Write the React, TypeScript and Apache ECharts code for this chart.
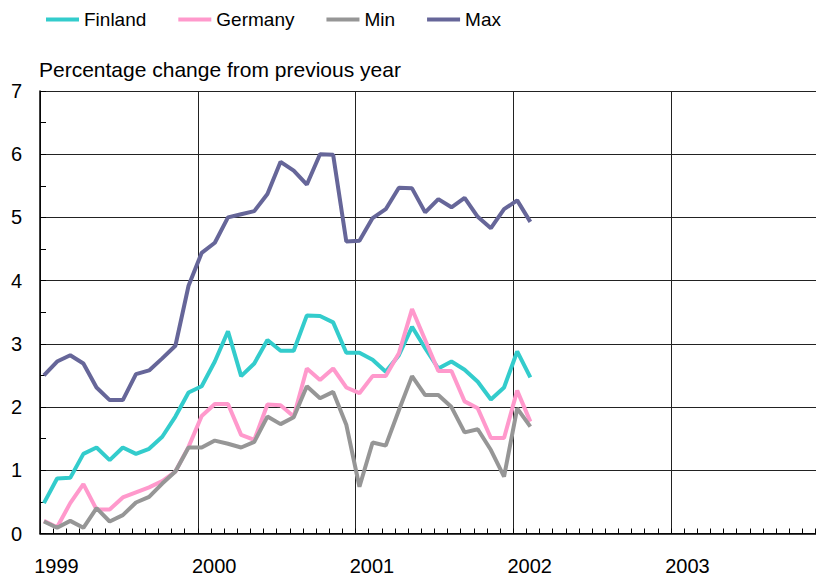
import React, { useEffect, useRef } from "react";
import * as echarts from "echarts";

const seriesNames = ["Finland", "Germany", "Min", "Max"];
const yearLabels = ["1999", "2000", "2001", "2002", "2003"];
const yTickLabels = ["0", "1", "2", "3", "4", "5", "6", "7"];

// Monthly values, Jan 1999 .. Feb 2002
const finland = [0.48, 0.87, 0.88, 1.26, 1.36, 1.16, 1.36, 1.26, 1.34, 1.53, 1.85, 2.23,
  2.33, 2.72, 3.2, 2.49, 2.69, 3.06, 2.89, 2.89, 3.45, 3.44, 3.34, 2.86,
  2.86, 2.75, 2.56, 2.82, 3.27, 2.93, 2.61, 2.72, 2.59, 2.4, 2.12, 2.31,
  2.88, 2.47];
const germany = [0.2, 0.1, 0.48, 0.78, 0.38, 0.38, 0.57, 0.65, 0.73, 0.83, 0.98, 1.37,
  1.86, 2.05, 2.05, 1.56, 1.48, 2.04, 2.03, 1.85, 2.61, 2.43, 2.61, 2.31,
  2.22, 2.49, 2.49, 2.85, 3.55, 3.06, 2.57, 2.57, 2.09, 1.98, 1.51, 1.51,
  2.26, 1.77];
const minVals = [0.19, 0.09, 0.2, 0.09, 0.4, 0.19, 0.29, 0.49, 0.58, 0.79, 0.98, 1.36,
  1.36, 1.47, 1.42, 1.36, 1.45, 1.85, 1.73, 1.84, 2.33, 2.14, 2.24, 1.72,
  0.74, 1.44, 1.39, 1.95, 2.49, 2.19, 2.19, 2.0, 1.6, 1.65, 1.32, 0.9,
  1.98, 1.69];
const maxVals = [2.5, 2.72, 2.82, 2.69, 2.31, 2.11, 2.11, 2.52, 2.58, 2.77, 2.97, 3.92,
  4.44, 4.6, 5.0, 5.05, 5.1, 5.37, 5.88, 5.74, 5.52, 6.0, 5.99, 4.62,
  4.63, 4.99, 5.13, 5.47, 5.46, 5.08, 5.29, 5.16, 5.31, 5.01, 4.83, 5.13,
  5.27, 4.93];

const colors = ["#33CCCC", "#FF99CC", "#969696", "#666699"];
const FONT = '"Liberation Sans", Arial, sans-serif';
const POINT_OFFSET = 0.3; // months from the start of the month
const LABEL_OFFSET = 1.25;

const toPoints = (vals: number[]) => vals.map((v, i) => [i + POINT_OFFSET, v]);

export default function App() {
  const ref = useRef<HTMLDivElement>(null);
  useEffect(() => {
    if (!ref.current) return;
    const chart = echarts.init(ref.current, null, { renderer: "svg" });
    const allData = [finland, germany, minVals, maxVals];
    chart.setOption({
      animation: false,
      backgroundColor: "#fff",
      legend: {
        data: seriesNames,
        icon: "rect",
        left: 46,
        top: 10,
        padding: 0,
        itemWidth: 33,
        itemHeight: 4,
        itemGap: 32,
        textStyle: { fontSize: 19, fontFamily: FONT, color: "#000", padding: [0, 0, 0, 0] },
      },
      graphic: [
        {
          type: "text",
          left: 39,
          top: 59,
          style: { text: "Percentage change from previous year", font: `21px ${FONT}`, fill: "#000" },
        },
      ],
      grid: { left: 40, right: 1.25, top: 91, bottom: 49.5, containLabel: false },
      xAxis: {
        type: "value",
        min: 0,
        max: yearLabels.length * 12,
        interval: 12,
        axisLine: { show: true, lineStyle: { color: "#000", width: 1.5 } },
        axisTick: { show: true, inside: true, length: 5, lineStyle: { color: "#000" } },
        minorTick: { show: true, splitNumber: 12, length: 5, lineStyle: { color: "#000", width: 1 } },
        splitLine: { show: true, lineStyle: { color: "#222", width: 1 } },
        axisLabel: {
          customValues: yearLabels.map((_, i) => i * 12 + LABEL_OFFSET),
          formatter: (v: number) => yearLabels[Math.round((v - LABEL_OFFSET) / 12)] ?? "",
          fontSize: 20,
          fontFamily: FONT,
          color: "#000",
          margin: 22,
        },
      },
      yAxis: {
        type: "value",
        min: 0,
        max: 7,
        interval: 1,
        axisLine: { show: true, lineStyle: { color: "#000", width: 1.5 } },
        axisTick: { show: true, inside: true, length: 6, lineStyle: { color: "#000" } },
        minorTick: { show: true, splitNumber: 2, length: 6, lineStyle: { color: "#000", width: 1 } },
        splitLine: { show: true, lineStyle: { color: "#222", width: 1 } },
        axisLabel: {
          formatter: (v: number) => yTickLabels[Math.round(v)] ?? "",
          fontSize: 20,
          fontFamily: FONT,
          color: "#000",
          margin: 18,
        },
      },
      series: seriesNames.map((name, i) => ({
        name,
        type: "line",
        data: toPoints(allData[i]),
        symbol: "none",
        color: colors[i],
        itemStyle: { color: colors[i] },
        lineStyle: { color: colors[i], width: 4 },
        z: 2 + i,
      })),
    });
    return () => chart.dispose();
  }, []);
  return (
    <div style={{ position: "absolute", left: 0, top: 0, width: 816, height: 583, overflow: "hidden", background: "#fff" }}>
      <div ref={ref} style={{ width: 830, height: 583 }} />
    </div>
  );
}
